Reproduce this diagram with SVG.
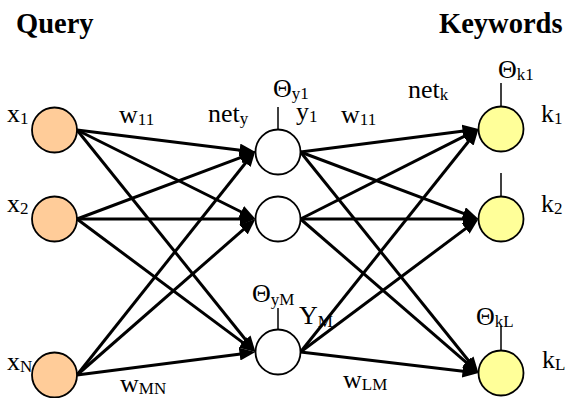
<svg xmlns="http://www.w3.org/2000/svg" width="568" height="398" viewBox="0 0 568 398">
<style>
  .t{font-family:"Liberation Serif","Times New Roman",serif;font-size:26px;fill:#000}
  .s{font-size:17px}
  .h{font-family:"Liberation Serif","Times New Roman",serif;font-size:28.5px;font-weight:bold;fill:#000}
  .in{fill:#FFCC99;stroke:#000;stroke-width:1.8}
  .hid{fill:#FFFFFF;stroke:#000;stroke-width:1.8}
  .out{fill:#FFFF99;stroke:#000;stroke-width:1.8}
  .b{stroke:#000;stroke-width:1.5}
  .c line{stroke:#000;stroke-width:3;marker-end:url(#ah)}
</style>
<defs>
  <marker id="ah" markerUnits="userSpaceOnUse" markerWidth="16" markerHeight="13" refX="7" refY="6.5" orient="auto">
    <path d="M0,0 L16,6.5 L0,13 z" fill="#000"/>
  </marker>
</defs>
<rect width="568" height="398" fill="#fff"/>
<text class="h" x="16" y="33">Query</text>
<text class="h" x="439" y="33">Keywords</text>

<g id="connectors" class="c">
  <line x1="77" y1="130" x2="246.56" y2="150.9"/>
  <line x1="77" y1="130" x2="247.44" y2="214.98"/>
  <line x1="77" y1="130" x2="249.86" y2="344.99"/>
  <line x1="77" y1="219" x2="247.07" y2="155.16"/>
  <line x1="77" y1="219" x2="246.5" y2="219"/>
  <line x1="77" y1="219" x2="248.28" y2="346.62"/>
  <line x1="77" y1="375" x2="249.88" y2="157.47"/>
  <line x1="77" y1="375" x2="248.72" y2="224.92"/>
  <line x1="77" y1="375" x2="246.57" y2="353.15"/>
  <line x1="300.5" y1="152" x2="469.57" y2="130.15"/>
  <line x1="300.5" y1="152" x2="470.08" y2="215.83"/>
  <line x1="300.5" y1="152" x2="472.85" y2="365.99"/>
  <line x1="300.5" y1="219" x2="470.47" y2="133.06"/>
  <line x1="300.5" y1="219" x2="469.5" y2="219"/>
  <line x1="300.5" y1="219" x2="471.69" y2="367.11"/>
  <line x1="300.5" y1="352" x2="472.89" y2="136.03"/>
  <line x1="300.5" y1="352" x2="471.29" y2="224.39"/>
  <line x1="300.5" y1="352" x2="469.56" y2="371.95"/>
</g>

<g id="x1">
  <circle class="in" cx="54.5" cy="130" r="22.5"/>
  <text class="t" x="7" y="122">x<tspan class="s" dy="2">1</tspan></text>
</g>
<g id="x2">
  <circle class="in" cx="54.5" cy="219" r="22.5"/>
  <text class="t" x="7" y="212">x<tspan class="s" dy="2">2</tspan></text>
</g>
<g id="xN">
  <circle class="in" cx="54.5" cy="375" r="22.5"/>
  <text class="t" x="7" y="370">x<tspan class="s" dy="2">N</tspan></text>
</g>

<g id="y1">
  <line class="b" x1="278" y1="107" x2="278" y2="129.5"/>
  <circle class="hid" cx="278" cy="152" r="22.5"/>
  <text class="t" x="273" y="97">Θ<tspan class="s" dy="2">y1</tspan></text>
  <text class="t" x="296" y="120">y<tspan class="s" dy="2">1</tspan></text>
</g>
<g id="y2">
  <circle class="hid" cx="278" cy="219" r="22.5"/>
</g>
<g id="yM">
  <line class="b" x1="278" y1="308" x2="278" y2="329.5"/>
  <circle class="hid" cx="278" cy="352" r="22.5"/>
  <text class="t" x="252" y="302">Θ<tspan class="s" dy="3">yM</tspan></text>
  <text class="t" x="299" y="324">Y<tspan class="s" dy="3">M</tspan></text>
</g>

<g id="k1">
  <line class="b" x1="501" y1="83" x2="501" y2="106.5"/>
  <circle class="out" cx="501" cy="129" r="22.5"/>
  <text class="t" x="498" y="78">Θ<tspan class="s" dy="2">k1</tspan></text>
  <text class="t" x="541" y="122">k<tspan class="s" dy="2">1</tspan></text>
</g>
<g id="k2">
  <line class="b" x1="501" y1="173" x2="501" y2="196.5"/>
  <circle class="out" cx="501" cy="219" r="22.5"/>
  <text class="t" x="541" y="212">k<tspan class="s" dy="2">2</tspan></text>
</g>
<g id="kL">
  <line class="b" x1="501" y1="326" x2="501" y2="350.5"/>
  <circle class="out" cx="501" cy="373" r="22.5"/>
  <text class="t" x="476" y="325">Θ<tspan class="s" dy="2">kL</tspan></text>
  <text class="t" x="542" y="368">k<tspan class="s" dy="2">L</tspan></text>
</g>

<g id="labels">
  <text class="t" x="119" y="123">w<tspan class="s" dy="2">11</tspan></text>
  <text class="t" x="208" y="122">net<tspan class="s" dy="2">y</tspan></text>
  <text class="t" x="341" y="123">w<tspan class="s" dy="2">11</tspan></text>
  <text class="t" x="408" y="98">net<tspan class="s" dy="2">k</tspan></text>
  <text class="t" x="120" y="392">w<tspan class="s" dy="2">MN</tspan></text>
  <text class="t" x="343" y="388">w<tspan class="s" dy="2">LM</tspan></text>
</g>
</svg>
